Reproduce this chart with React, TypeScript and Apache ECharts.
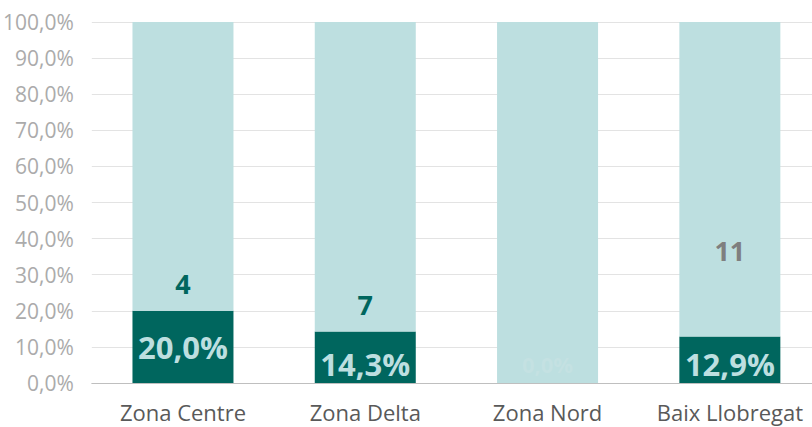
import React, { useEffect, useRef } from "react";
import * as echarts from "echarts";

const categories = ["Zona Centre", "Zona Delta", "Zona Nord", "Baix Llobregat"];
const darkValues = [20.0, 14.3, 0.0, 12.9];
const lightValues = [80.0, 85.7, 100.0, 87.1];
const countLabels = ["4", "7", "", "11"];
const countLabelY = [27.7, 21.7, null, 36.6];
const countColors = ["#00665E", "#00665E", "#00665E", "#7F7F7F"];
const yTicks = [0, 10, 20, 30, 40, 50, 60, 70, 80, 90, 100];

const fmt = (v: number) => v.toFixed(1).replace(".", ",") + "%";

export default function App() {
  const ref = useRef<HTMLDivElement>(null);
  useEffect(() => {
    if (!ref.current) return;
    const chart = echarts.init(ref.current, null, { renderer: "svg" });
    const font = "'Open Sans', sans-serif";
    chart.setOption({
      animation: false,
      grid: { left: 89, width: 732, top: 22, bottom: 44, containLabel: false },
      xAxis: {
        type: "category",
        data: categories,
        axisTick: { show: false },
        axisLine: { lineStyle: { color: "#BFBFBF", width: 1 } },
        axisLabel: { color: "#595959", fontSize: 22, fontFamily: font, margin: 18, interval: 0 },
      },
      yAxis: {
        type: "value",
        min: 0,
        max: 100,
        interval: 10,
        axisLine: { show: false },
        axisTick: { show: false },
        splitLine: { lineStyle: { color: "#E3E3E3", width: 1 } },
        axisLabel: {
          color: "#ABABAB",
          fontSize: 21,
          fontFamily: font,
          margin: 18,
          formatter: (v: number) => (yTicks.includes(v) ? fmt(v) : ""),
        },
      },
      series: [
        {
          type: "bar",
          stack: "a",
          barWidth: 101,
          data: darkValues.map((v, i) => ({
            value: v,
            label:
              i === 0
                ? { position: "inside" }
                : i === 2
                ? { position: "insideBottom", distance: 8, color: "#C4E1E2", fontSize: 22 }
                : { position: "insideBottom", distance: 4 },
          })),
          itemStyle: { color: "#00665E" },
          label: {
            show: true,
            formatter: (p: any) => fmt(p.value),
            fontSize: 31,
            fontWeight: "bold",
            fontFamily: font,
            color: "#BDDFE0",
          },
        },
        {
          type: "bar",
          stack: "a",
          barWidth: 101,
          data: lightValues,
          itemStyle: { color: "#BDDFE0" },
        },
        {
          type: "scatter",
          symbolSize: 0,
          data: countLabelY.map((v, i) => ({
            value: v,
            label: { color: countColors[i] },
          })),
          label: {
            show: true,
            position: "inside",
            formatter: (p: any) => countLabels[p.dataIndex],
            fontSize: 27,
            fontWeight: "bold",
            fontFamily: font,
            opacity: 1,
          },
          z: 5,
        },
      ],
    });
    return () => chart.dispose();
  }, []);
  return (
    <div style={{ position: "absolute", left: 0, top: 0, width: 812, height: 427, overflow: "hidden" }}>
      <div ref={ref} style={{ width: 840, height: 427, position: "absolute", left: 0, top: 0 }} />
    </div>
  );
}
